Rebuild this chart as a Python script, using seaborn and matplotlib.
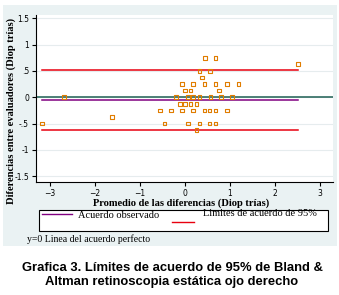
import numpy as np
import pandas as pd
import seaborn as sns
import matplotlib.pyplot as plt
from matplotlib.patches import Rectangle
from matplotlib.lines import Line2D

# Bland-Altman data: average of the two readings vs difference (dioptres)
avg_vals = [0.45, 0.68,
            2.51,
            0.33, 0.56,
            0.39,
            -0.06, 0.18, 0.44, 0.68, 0.94, 1.19,
            0.0, 0.13, 0.76,
            -2.68, -0.2, 0.07, 0.18, 0.33, 0.57, 0.81, 1.05,
            -0.11, 0.0, 0.13, 0.26,
            -0.55, -0.31, -0.06, 0.18, 0.44, 0.55, 0.68, 0.94,
            -1.61,
            -3.17, -0.45, 0.07, 0.33, 0.55, 0.68,
            0.26]
diff_vals = [0.75, 0.75,
             0.625,
             0.5, 0.5,
             0.375,
             0.25, 0.25, 0.25, 0.25, 0.25, 0.25,
             0.125, 0.125, 0.125,
             0.0, 0.0, 0.0, 0.0, 0.0, 0.0, 0.0, 0.0,
             -0.125, -0.125, -0.125, -0.125,
             -0.25, -0.25, -0.25, -0.25, -0.25, -0.25, -0.25, -0.25,
             -0.375,
             -0.5, -0.5, -0.5, -0.5, -0.5, -0.5,
             -0.625]

mean_diff = -0.05
upper_loa = 0.52
lower_loa = -0.62

y_ticks = [1.5, 1, 0.5, 0, -0.5, -1, -1.5]
y_labels = ["1.5", "1", ".5", "0", "-.5", "-1", "-1.5"]
x_ticks = [-3, -2, -1, 0, 1, 2, 3]

df = pd.DataFrame({"promedio": avg_vals, "diferencia": diff_vals})

W, H = 339, 295
fig = plt.figure(figsize=(W / 100, H / 100), dpi=100)
fig.patch.set_facecolor("white")

# Stata-like light panel behind the graph
fig.add_artist(Rectangle((3 / W, 1 - 246 / H), 334 / W, 241 / H,
                         transform=fig.transFigure, facecolor="#eaf2f3",
                         edgecolor="none", zorder=0))

ax = fig.add_axes([36 / W, 1 - 182 / H, 297 / W, 167 / H])
ax.set_facecolor("white")

orange = "#e07d00"
red = "#e8000f"
purple = "#800080"
teal = "#2f6b60"

ax.axhline(0, color=teal, lw=1.2, zorder=2)
xr = [df["promedio"].min(), df["promedio"].max()]
ax.plot(xr, [upper_loa, upper_loa], color=red, lw=1.1, zorder=2)
ax.plot(xr, [lower_loa, lower_loa], color=red, lw=1.1, zorder=2)
ax.plot(xr, [mean_diff, mean_diff], color=purple, lw=1.1, zorder=2)

sns.scatterplot(data=df, x="promedio", y="diferencia", ax=ax, marker="s",
                s=7, facecolors="none", edgecolor=orange, linewidth=0.8,
                zorder=3)

ax.set_xlim(-3.30, 3.29)
ax.set_ylim(-1.61, 1.56)
ax.set_yticks(y_ticks)
ax.set_yticklabels(y_labels)
ax.set_xticks(x_ticks)
ax.tick_params(axis="both", labelsize=5.5, length=3, width=0.8, pad=2,
               direction="out")
for yt in y_ticks:
    ax.axhline(yt, color="#e6ecee", lw=0.8, zorder=1)
ax.set_xlabel("")
ax.set_ylabel("")
for side in ["top", "right"]:
    ax.spines[side].set_visible(False)
ax.spines["left"].set_linewidth(0.8)
ax.spines["bottom"].set_linewidth(0.8)

serif = ["Liberation Serif", "DejaVu Serif"]
fig.text(181 / W, 1 - 203 / H, "Promedio de las diferencias (Diop trías)",
         family=serif, fontsize=7.6, fontweight="bold", ha="center", va="center")
fig.text(11 / W, 1 - 111 / H, "Diferencias entre evaluadores (Diop trías)",
         family=serif, fontsize=7.6, fontweight="bold", ha="center",
         va="center", rotation=90)

# legend box
fig.add_artist(Rectangle((39 / W, 1 - 231 / H), 289 / W, 21 / H,
                         transform=fig.transFigure, facecolor="white",
                         edgecolor="black", lw=0.8))
fig.add_artist(Line2D([42 / W, 72 / W], [1 - 214 / H, 1 - 214 / H],
                      transform=fig.transFigure, color=purple, lw=1))
fig.text(78 / W, 1 - 216 / H, "Acuerdo observado", family=serif,
         fontsize=7.5, ha="left", va="center")
fig.add_artist(Line2D([172 / W, 194 / W], [1 - 221.5 / H, 1 - 221.5 / H],
                      transform=fig.transFigure, color=red, lw=1))
fig.text(203 / W, 1 - 213 / H, "Limites de acuerdo de 95%", family=serif,
         fontsize=7.5, ha="left", va="center")
fig.text(27 / W, 1 - 239 / H, "y=0 Linea del acuerdo perfecto", family=serif,
         fontsize=7, ha="left", va="center")

fig.text(172 / W, 1 - 275 / H,
         "Grafica 3. Límites de acuerdo de 95% de Bland &\n"
         "Altman retinoscopia estática ojo derecho",
         family=["Liberation Sans", "DejaVu Sans"], fontsize=9.4,
         fontweight="bold", ha="center", va="center", linespacing=1.3)

fig.savefig("out.png", dpi=100)
